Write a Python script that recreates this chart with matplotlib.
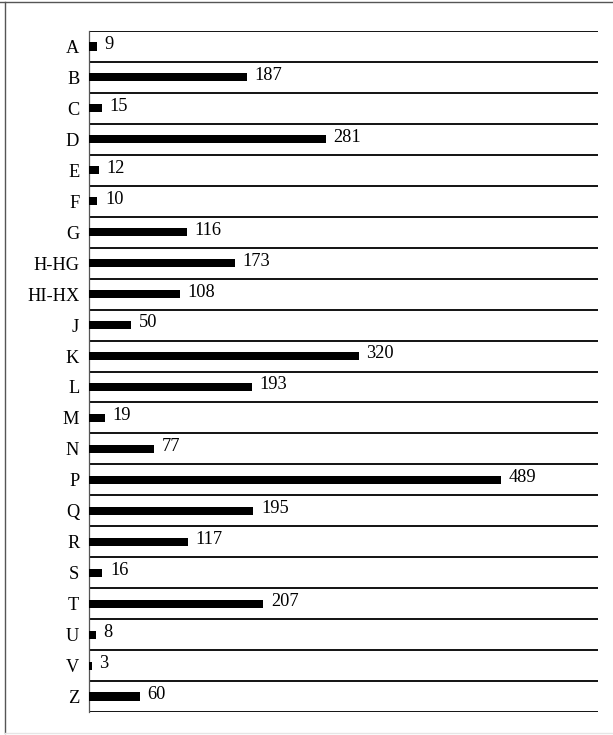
import matplotlib
matplotlib.use("Agg")
import matplotlib.pyplot as plt
from matplotlib.lines import Line2D

categories = ["A", "B", "C", "D", "E", "F", "G", "H-HG", "HI-HX", "J", "K", "L",
              "M", "N", "P", "Q", "R", "S", "T", "U", "V", "Z"]
values = [9, 187, 15, 281, 12, 10, 116, 173, 108, 50, 320, 193,
          19, 77, 489, 195, 117, 16, 207, 8, 3, 60]

plt.rcParams['font.family'] = ['Liberation Serif', 'DejaVu Serif']

W, H = 613, 735
fig = plt.figure(figsize=(W / 100, H / 100), dpi=100)
ax = fig.add_axes([89 / W, (H - 712) / H, (598 - 89) / W, (712 - 31) / H])

y = list(range(len(categories)))
ax.barh(y, values, height=0.26, color='black', zorder=3)
ax.set_ylim(len(categories) - 0.5, -0.5)
ax.set_xlim(0, 604)

for i in range(len(categories) + 1):
    ax.axhline(i - 0.5, color='black', lw=1.3, zorder=2)

for yi, v in zip(y, values):
    ax.annotate(str(v), (v, yi), xytext=(5.5, 1.5), textcoords='offset points',
                ha='left', va='center', fontsize=13.2)

ax.set_yticks(y)
ax.set_yticklabels(categories, fontsize=13.2)
ax.tick_params(axis='y', length=0, pad=7)
ax.set_xticks([])
for s in ['top', 'right', 'bottom']:
    ax.spines[s].set_visible(False)
ax.spines['left'].set_color('#555555')
ax.spines['left'].set_linewidth(0.9)

# figure frame
fig.add_artist(Line2D([5 / W, 5 / W], [2 / H, (H - 1.5) / H], transform=fig.transFigure, color='#555555', lw=1.0))
fig.add_artist(Line2D([0, 1], [(H - 1.5) / H, (H - 1.5) / H], transform=fig.transFigure, color='#555555', lw=1.0))
fig.add_artist(Line2D([5 / W, 1], [2 / H, 2 / H], transform=fig.transFigure, color='#e6e6e6', lw=1.0))

fig.savefig('out.png', dpi=100)
